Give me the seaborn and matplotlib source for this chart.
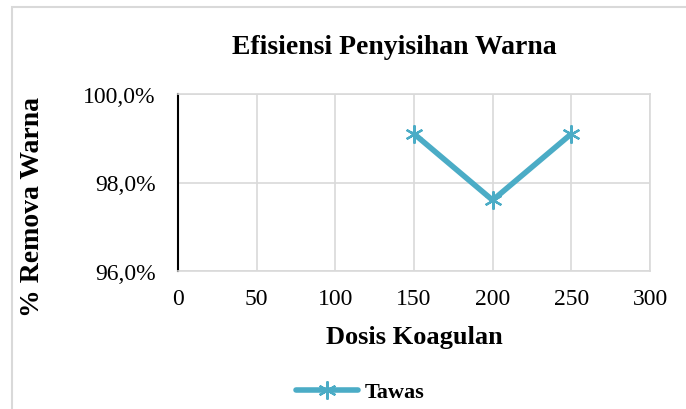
import pandas as pd
import matplotlib.pyplot as plt
import matplotlib.patches as patches
import seaborn as sns

# data
dosis = [150, 200, 250]
removal = [99.1, 97.6, 99.1]
seri = ['Tawas', 'Tawas', 'Tawas']
x_ticks = [0, 50, 100, 150, 200, 250, 300]
y_ticks = [96.0, 98.0, 100.0]

data = pd.DataFrame({'dosis': dosis, 'removal': removal, 'seri': seri})

sns.set_style('white')
plt.rcParams['font.family'] = ['Liberation Serif', 'DejaVu Serif']
plt.rcParams['text.color'] = 'black'
plt.rcParams['xtick.color'] = 'black'
plt.rcParams['ytick.color'] = 'black'

fig = plt.figure(figsize=(6.86, 4.10), dpi=100)
ax = fig.add_axes([178 / 686, 1 - 272 / 410, (650 - 178) / 686, (272 - 95) / 410])

warna = '#4BACC6'
sns.lineplot(data=data, x='dosis', y='removal', hue='seri', palette=[warna],
             marker=(6, 2, 0), markersize=13, markeredgewidth=1.6,
             markeredgecolor=warna, linewidth=4, ax=ax, legend=True)

ax.set_xlim(0, 300)
ax.set_ylim(96, 100)
ax.set_xticks(x_ticks)
ax.set_yticks(y_ticks)
ax.set_yticklabels([f'{v:.1f}%'.replace('.', ',') for v in y_ticks])
ax.tick_params(axis='both', labelsize=17, length=0, labelcolor='black')
ax.tick_params(axis='y', pad=16)
ax.tick_params(axis='x', pad=12)
ax.grid(True, color='#d9d9d9', linewidth=1.2)
for side in ['top', 'right', 'bottom']:
    ax.spines[side].set_color('#d9d9d9')
    ax.spines[side].set_linewidth(1.2)
ax.spines['left'].set_color('black')
ax.spines['left'].set_linewidth(1.5)

ax.set_xlabel('')
ax.set_ylabel('')
fig.text(414 / 686, 1 - 338 / 410, 'Dosis Koagulan', fontsize=19,
         fontweight='bold', ha='center', va='center', color='black')
fig.text(33 / 686, 1 - 207 / 410, '% Remova Warna', fontsize=20, rotation=90,
         fontweight='bold', ha='center', va='center', color='black')
fig.text(394 / 686, 1 - 47 / 410, 'Efisiensi Penyisihan Warna', fontsize=20,
         fontweight='bold', ha='center', va='center', color='black')

handles, labels = ax.get_legend_handles_labels()
leg = ax.legend(handles, labels, loc='center', bbox_to_anchor=(360 / 686, 1 - 393 / 410),
                bbox_transform=fig.transFigure, frameon=False, handlelength=2.8,
                handletextpad=0.3, prop={'size': 16, 'weight': 'bold'})
for t in leg.get_texts():
    t.set_color('black')

# chart area border (cropped at right/bottom)
fig.patches.append(patches.Rectangle((12 / 686, -0.1), 1.2, (410 - 8) / 410 + 0.1,
                                     transform=fig.transFigure, fill=False,
                                     edgecolor='#d9d9d9', linewidth=1.5))

fig.savefig('out.png', dpi=100)
